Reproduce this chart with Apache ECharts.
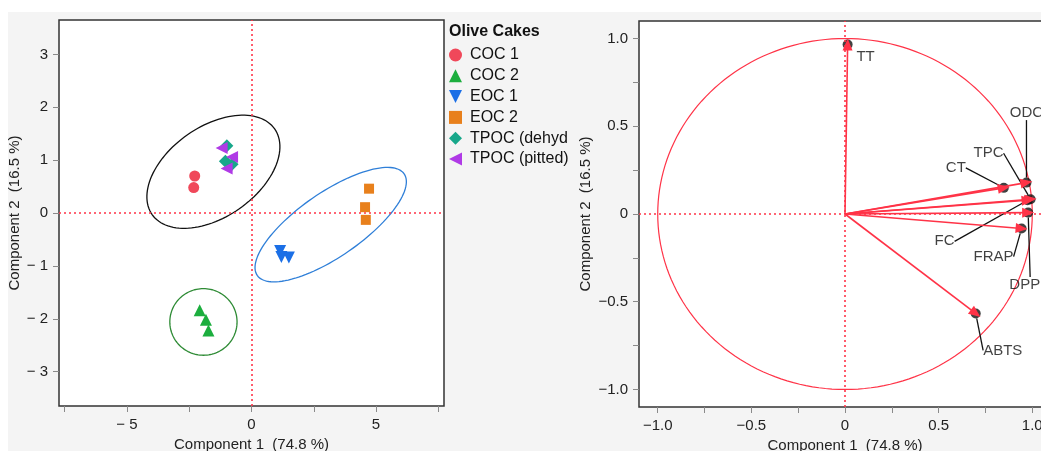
<!DOCTYPE html>
<html><head><meta charset="utf-8">
<script src="https://cdn.jsdelivr.net/npm/echarts@6/dist/echarts.min.js"></script>
<style>html,body{margin:0;padding:0;background:#fff;overflow:hidden;width:1041px;height:451px}#c{width:1070px;height:451px}</style>
</head><body><div id="c"></div>
<script>
// ---- Score plot data (left) ----
const groupNames = ['COC 1', 'COC 2', 'EOC 1', 'EOC 2', 'TPOC (dehyd', 'TPOC (pitted)'];
const coc1 = [[-2.28, 0.70], [-2.32, 0.48]];
const coc2 = [[-2.08, -1.84], [-1.83, -2.02], [-1.73, -2.22]];
const eoc1 = [[1.15, -0.72], [1.20, -0.83], [1.50, -0.84]];
const eoc2 = [[4.72, 0.46], [4.56, 0.11], [4.59, -0.13]];
const tpocDehyd = [[-0.99, 1.27], [-1.05, 0.98], [-0.78, 0.92]];
const tpocPitted = [[-1.20, 1.23], [-0.78, 1.06], [-1.00, 0.84]];
// confidence ellipses: centre x, centre y, semi-axis A (dx, dy), semi-axis B (dx, dy)
const ellipseBlack = [-1.53, 0.78, 2.46, 0.81, -1.04, 0.70];
const ellipseBlue = [3.18, -0.22, 2.95, 0.96, -0.73, 0.50];
const ellipseGreen = [-1.93, -2.06, 1.35, 0, 0, 0.63];
const scoreXTicks = [-5, 0, 5];
const scoreXMinorTicks = [-7.5, -5, -2.5, 0, 2.5, 5, 7.5];
const scoreYTicks = [-3, -2, -1, 0, 1, 2, 3];

// ---- Loading plot data (right) ----
const variables = ['TT', 'ODC', 'TPC', 'CT', 'FC', 'DPPH', 'FRAP', 'ABTS'];
const pc1 = [0.014, 0.969, 0.991, 0.848, 0.975, 0.978, 0.943, 0.698];
const pc2 = [0.966, 0.179, 0.084, 0.149, 0.078, 0.008, -0.083, -0.567];
const loadTicks = [-1, -0.5, 0, 0.5, 1];
const loadMinorTicks = [-1, -0.75, -0.5, -0.25, 0, 0.25, 0.5, 0.75, 1];

// ---- styles ----
const groupColors = ['#f0485a', '#1cae3e', '#1b6fe6', '#e8801c', '#17a78a', '#b03ae6'];
const groupSymbols = ['circle', 'triangle', 'triangle', 'rect', 'diamond', 'triangle'];
const groupLegendIcons = ['circle', 'triangle', 'path://M0,0 L10,0 L5,10 Z', 'rect', 'diamond', 'path://M10,0 L10,10 L0,5 Z'];
const groupRotate = [0, 0, 180, 0, 0, 90];
const groupSize = [11, 12, 12, 10, 13, 12];
const labelOffsets = [[18, 12], [0, -70], [-42, -46], [-48, -20], [-83, 41], [2, 72], [-28, 28], [27, 37]];
const RED = '#ff3347';
const FONT = 'Liberation Sans, Arial, Helvetica, sans-serif';

function minusFmt(v, dec) {
  if (Math.abs(v) < 1e-9) return '0';
  const s = Math.abs(v).toFixed(dec);
  return v < 0 ? '\u2212' + (dec === 0 ? ' ' : '') + s : s;
}
function ellipseRender(params, api) {
  const cx = api.value(0), cy = api.value(1);
  const ax = api.value(2), ay = api.value(3), bx = api.value(4), by = api.value(5);
  const pts = [];
  for (let i = 0; i <= 120; i++) {
    const t = i / 120 * Math.PI * 2;
    pts.push(api.coord([cx + ax * Math.cos(t) + bx * Math.sin(t), cy + ay * Math.cos(t) + by * Math.sin(t)]));
  }
  return { type: 'polyline', shape: { points: pts }, style: { fill: null, stroke: api.visual('color'), lineWidth: 1.3 } };
}
function circleRender(params, api) {
  const pts = [];
  for (let i = 0; i <= 180; i++) {
    const t = i / 180 * Math.PI * 2;
    pts.push(api.coord([api.value(0) + api.value(2) * Math.cos(t), api.value(1) + api.value(2) * Math.sin(t)]));
  }
  return { type: 'polyline', shape: { points: pts }, style: { fill: null, stroke: RED, lineWidth: 1.2 } };
}

const axisCommon = {
  axisLine: { show: false, onZero: false },
  splitLine: { show: false },
  axisTick: { show: true, inside: false, length: 6, lineStyle: { color: '#8a8a8a', width: 1 } },
  axisLabel: { color: '#222', fontSize: 15, fontFamily: FONT, margin: 11 },
  nameTextStyle: { color: '#222', fontSize: 15, fontFamily: FONT },
  nameLocation: 'middle'
};
const zeroLines = {
  silent: true, symbol: 'none', label: { show: false },
  lineStyle: { color: RED, type: [2, 3], width: 1.6 },
  data: [{ xAxis: 0 }, { yAxis: 0 }]
};

const groups = [coc1, coc2, eoc1, eoc2, tpocDehyd, tpocPitted];
const series = groups.map((d, i) => ({
  type: 'scatter', name: groupNames[i], xAxisIndex: 0, yAxisIndex: 0,
  data: d, symbol: groupSymbols[i], symbolRotate: groupRotate[i], symbolSize: groupSize[i],
  itemStyle: { color: groupColors[i], opacity: 1 }, z: 5
}));
series.push({ type: 'custom', name: 'e1', xAxisIndex: 0, yAxisIndex: 0, renderItem: ellipseRender, data: [ellipseBlack], itemStyle: { color: '#111' }, silent: true, z: 3, markLine: zeroLines });
series.push({ type: 'custom', name: 'e2', xAxisIndex: 0, yAxisIndex: 0, renderItem: ellipseRender, data: [ellipseBlue], itemStyle: { color: '#2f7fd8' }, silent: true, z: 3 });
series.push({ type: 'custom', name: 'e3', xAxisIndex: 0, yAxisIndex: 0, renderItem: ellipseRender, data: [ellipseGreen], itemStyle: { color: '#2e8b35' }, silent: true, z: 3 });

// right panel
series.push({ type: 'custom', name: 'unit', xAxisIndex: 1, yAxisIndex: 1, renderItem: circleRender, data: [[0, 0, 1]], silent: true, z: 3, markLine: zeroLines });
series.push({
  type: 'scatter', name: 'loadings', xAxisIndex: 1, yAxisIndex: 1,
  data: variables.map((v, i) => ({ name: v, value: [pc1[i], pc2[i]], labelLine: { show: i !== 0 } })),
  symbol: 'circle', symbolSize: 10, itemStyle: { color: '#111' }, z: 4,
  label: { show: true, position: 'inside', formatter: '{b}', color: '#111', fontSize: 15, fontFamily: FONT },
  labelLine: { show: true, lineStyle: { color: '#111', width: 1.3 } },
  labelLayout: p => ({ dx: labelOffsets[p.dataIndex][0], dy: labelOffsets[p.dataIndex][1], hideOverlap: false }),
  markLine: {
    silent: true, symbol: ['none', 'triangle'], symbolSize: [10, 12], label: { show: false },
    lineStyle: { color: RED, type: 'solid', width: 1.6 }, z: 6,
    data: variables.map((v, i) => [{ coord: [0, 0] }, { coord: [pc1[i], pc2[i]] }])
  }
});

const chart = echarts.init(document.getElementById('c'), null, { renderer: 'canvas' });
chart.setOption({
  animation: false,
  backgroundColor: '#fff',
  graphic: [{ type: 'rect', left: 8, top: 12, shape: { width: 1070, height: 440 }, style: { fill: '#f4f4f4' }, z: -10, silent: true }],
  title: { text: 'Olive Cakes', left: 449, top: 24, padding: 0, textStyle: { fontSize: 16, fontWeight: 'bold', color: '#111', fontFamily: FONT } },
  legend: {
    data: groupNames.map((n, i) => ({ name: n, icon: groupLegendIcons[i] })),
    orient: 'vertical', left: 449, top: 46.5, padding: 0,
    itemWidth: 13, itemHeight: 13, itemGap: 3.8,
    textStyle: { fontSize: 16, color: '#111', fontFamily: FONT, lineHeight: 17, padding: [0, 0, 0, 3] }
  },
  grid: [
    { left: 59, top: 20, width: 385, height: 386, show: true, backgroundColor: '#fff', borderColor: '#333', borderWidth: 1.5, outerBoundsMode: 'none', containLabel: false },
    { left: 639, top: 21, width: 412, height: 386, show: true, backgroundColor: '#fff', borderColor: '#333', borderWidth: 1.5, outerBoundsMode: 'none', containLabel: false }
  ],
  xAxis: [
    Object.assign({}, axisCommon, {
      gridIndex: 0, type: 'value', min: -7.73, max: 7.73, name: 'Component 1  (74.8 %)', nameGap: 30,
      axisTick: Object.assign({}, axisCommon.axisTick, { customValues: scoreXMinorTicks }),
      axisLabel: Object.assign({}, axisCommon.axisLabel, { customValues: scoreXTicks, formatter: v => minusFmt(v, 0) })
    }),
    Object.assign({}, axisCommon, {
      gridIndex: 1, type: 'value', min: -1.1, max: 1.1, name: 'Component 1  (74.8 %)', nameGap: 31,
      axisTick: Object.assign({}, axisCommon.axisTick, { customValues: loadMinorTicks }),
      axisLabel: Object.assign({}, axisCommon.axisLabel, { customValues: loadTicks, formatter: v => minusFmt(v, v === 0 ? 0 : 1) })
    })
  ],
  yAxis: [
    Object.assign({}, axisCommon, {
      gridIndex: 0, type: 'value', min: -3.65, max: 3.65, name: 'Component 2  (16.5 %)', nameGap: 34,
      axisTick: Object.assign({}, axisCommon.axisTick, { customValues: scoreYTicks }),
      axisLabel: Object.assign({}, axisCommon.axisLabel, { customValues: scoreYTicks, formatter: v => minusFmt(v, 0) })
    }),
    Object.assign({}, axisCommon, {
      gridIndex: 1, type: 'value', min: -1.1, max: 1.1, name: 'Component 2  (16.5 %)', nameGap: 46,
      axisTick: Object.assign({}, axisCommon.axisTick, { customValues: loadMinorTicks }),
      axisLabel: Object.assign({}, axisCommon.axisLabel, { customValues: loadTicks, formatter: v => minusFmt(v, v === 0 ? 0 : 1) })
    })
  ],
  series: series
});
</script></body></html>
